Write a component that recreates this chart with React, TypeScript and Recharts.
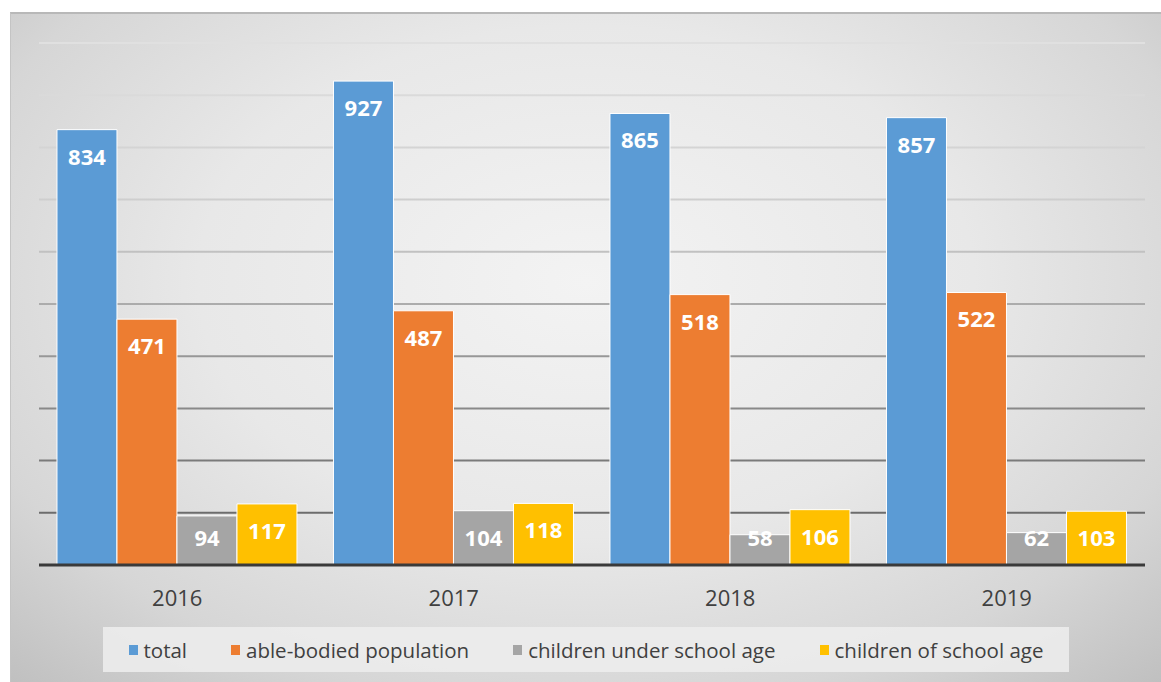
import React from 'react';
import { BarChart, Bar, XAxis, YAxis, CartesianGrid, LabelList } from 'recharts';

const YEARS = ['2016', '2017', '2018', '2019'];
const TOTAL = [834, 927, 865, 857];
const ABLE_BODIED = [471, 487, 518, 522];
const UNDER_SCHOOL_AGE = [94, 104, 58, 62];
const SCHOOL_AGE = [117, 118, 106, 103];
const Y_TICKS = [0, 100, 200, 300, 400, 500, 600, 700, 800, 900, 1000];

const SERIES = [
  { key: 'total', name: 'total', color: '#5b9bd5' },
  { key: 'able', name: 'able-bodied population', color: '#ed7d31' },
  { key: 'under', name: 'children under school age', color: '#a5a5a5' },
  { key: 'school', name: 'children of school age', color: '#ffc000' },
];

const data = YEARS.map((year, i) => ({
  year,
  total: TOTAL[i],
  able: ABLE_BODIED[i],
  under: UNDER_SCHOOL_AGE[i],
  school: SCHOOL_AGE[i],
}));

const FONT = '"Open Sans", Calibri, sans-serif';

// inside-end label, pushed up on short bars so it stays above the axis (like Excel)
const BarValue = (props: any) => {
  const { x, y, width, height, value } = props;
  const cy = Math.min(y + 27, y + height - 27);
  return (
    <text
      x={x + width / 2}
      y={cy}
      dy="0.36em"
      textAnchor="middle"
      fill="#ffffff"
      fontSize={22}
      fontWeight="bold"
      fontFamily={FONT}
    >
      {value}
    </text>
  );
};

const LegendBox = () => (
  <div
    style={{
      position: 'absolute',
      left: 92,
      top: 613,
      width: 966,
      height: 45,
      display: 'flex',
      alignItems: 'center',
      justifyContent: 'center',
      gap: 44,
      background: 'rgba(236,236,236,0.9)',
      fontFamily: FONT,
      fontSize: 20.5,
      color: '#404040',
    }}
  >
    {SERIES.map(s => (
      <div key={s.key} style={{ display: 'flex', alignItems: 'center' }}>
        <span style={{ width: 9, height: 10, background: s.color, marginRight: 6, display: 'inline-block' }} />
        <span>{s.name}</span>
      </div>
    ))}
  </div>
);

const App: React.FC = () => {
  return (
    <div style={{ position: 'absolute', left: 0, top: 0, width: 1161, height: 682, background: '#fff', overflow: 'hidden' }}>
      <div
        style={{
          position: 'absolute',
          left: 10,
          top: 12,
          width: 1151,
          height: 670,
          boxSizing: 'border-box',
          borderTop: '2px solid #b8b8b8',
          borderLeft: '1px solid #c4c4c4',
          background: 'radial-gradient(ellipse 75% 85% at 50% 40%, #f3f3f3 0%, #e8e8e8 45%, #d6d6d6 75%, #bdbdbd 100%)',
        }}
      >
        <BarChart
          width={1151}
          height={668}
          data={data}
          margin={{ top: 31, right: 16, left: 29, bottom: 75 }}
          barCategoryGap="6.5%"
          barGap={0}
          style={{ position: 'absolute', left: -1, top: -2 }}
        >
          <defs>
            <linearGradient id="gridFade" gradientUnits="userSpaceOnUse" x1="0" y1="31" x2="0" y2="553">
              <stop offset="0%" stopColor="#e0e0e0" />
              <stop offset="35%" stopColor="#cbcbcb" />
              <stop offset="60%" stopColor="#979797" />
              <stop offset="100%" stopColor="#5e5e5e" />
            </linearGradient>
          </defs>
          <CartesianGrid vertical={false} stroke="url(#gridFade)" strokeWidth={2} />
          <YAxis hide domain={[0, 1000]} ticks={Y_TICKS} />
          <XAxis
            dataKey="year"
            height={40}
            axisLine={{ stroke: '#3a3a3a', strokeWidth: 3 }}
            tickLine={false}
            tick={{ fill: '#404040', fontSize: 22, fontFamily: FONT }}
            dy={17}
          />
          {SERIES.map(s => (
            <Bar key={s.key} dataKey={s.key} name={s.name} fill={s.color} stroke="#ffffff" strokeWidth={1} isAnimationActive={false}>
              <LabelList dataKey={s.key} content={<BarValue />} />
            </Bar>
          ))}
        </BarChart>
        <LegendBox />
      </div>
    </div>
  );
};

export default App;
